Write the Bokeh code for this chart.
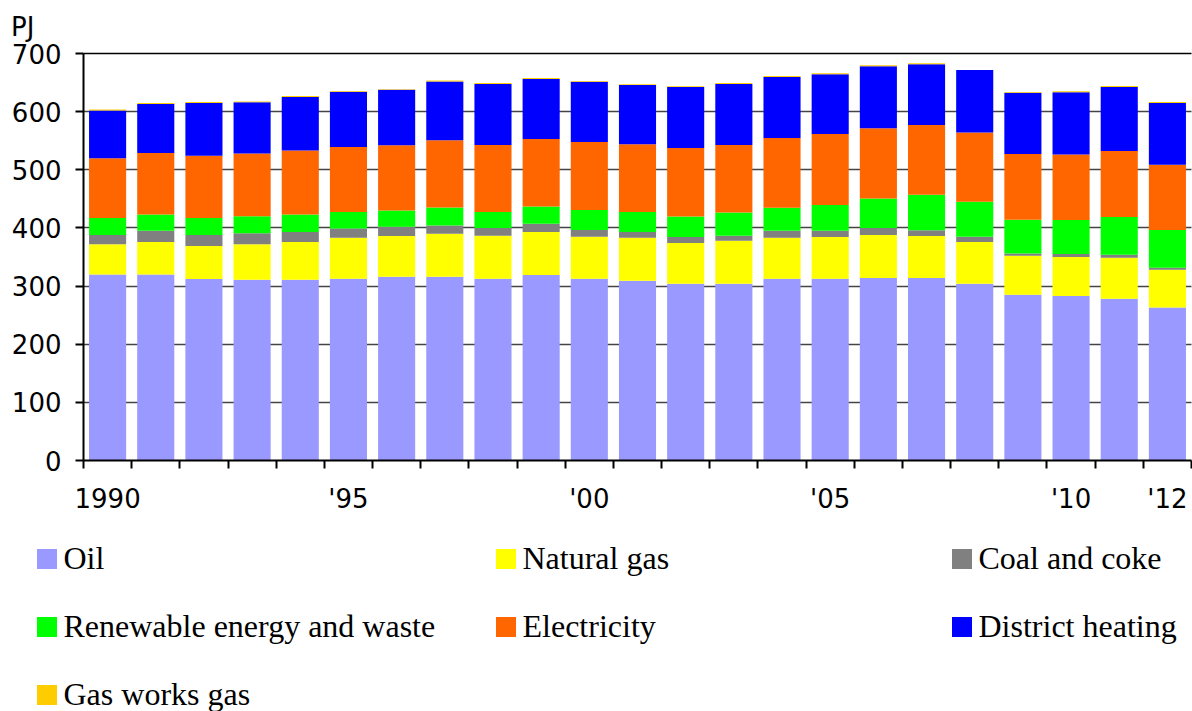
from bokeh.plotting import figure
from bokeh.models import (ColumnDataSource, Range1d, FixedTicker, Legend, LegendItem,
                          LinearAxis, Label)
from bokeh.embed import file_html
from bokeh.resources import INLINE

# ---- data (PJ) ----
years = list(range(1990, 2013))
oil = [320, 320, 312, 311, 311, 312.5, 316, 316, 312.5, 319, 312.5, 309, 304, 304,
       312.5, 312.5, 314, 314, 304, 285, 283, 278, 263]
natural_gas = [52, 56, 57, 61, 65, 70.5, 70, 74, 74, 74, 72.5, 74, 70, 74,
               70.5, 72, 74, 72, 72, 67, 67, 70.5, 65]
coal_coke = [16, 19, 19, 19, 17, 16, 16, 14, 13.5, 14, 11.5, 10, 10.5, 8.5,
             12, 10.5, 12, 10, 9, 4, 5, 5.5, 3.5]
renewable = [29, 28, 29, 29, 30, 28.5, 28, 31, 27.5, 30, 34.5, 34.5, 35, 40,
             39.5, 44.5, 50.5, 61, 60, 58, 58.5, 65, 65]
electricity = [103, 106, 107, 108, 110, 111.5, 112, 116, 115, 116, 117, 116.5, 118, 116,
               120, 122, 121, 120, 119, 113, 113, 113.5, 112]
district_heating = [82, 84, 91, 88, 92, 95, 95.5, 101, 105, 103, 103.5, 102, 105, 105,
                    105, 103, 106.5, 104.5, 107.5, 105.5, 107, 110, 106.5]
gas_works_gas = [1.7, 2, 1.5, 1.5, 2, 1.4, 1.2, 1.7, 1.6, 1.7, 1.1, 1.2, 1.2, 1.6,
                 1.6, 1.7, 1.7, 1.7, 0.3, 1.1, 1.4, 1.7, 1.7]

series_names = ["Oil", "Natural gas", "Coal and coke", "Renewable energy and waste",
                "Electricity", "District heating", "Gas works gas"]
series_keys = ["oil", "natural_gas", "coal_coke", "renewable", "electricity",
               "district_heating", "gas_works_gas"]
colors = ["#9999FF", "#FFFF00", "#808080", "#00FF00", "#FF6600", "#0000FF", "#FFCC00"]

label_years = [1990, 1995, 2000, 2005, 2010, 2012]
label_texts = ["1990", "'95", "'00", "'05", "'10", "'12"]
y_ticks = [0, 100, 200, 300, 400, 500, 600, 700]
y_max = 700

src = ColumnDataSource(dict(year=years, oil=oil, natural_gas=natural_gas, coal_coke=coal_coke,
                            renewable=renewable, electricity=electricity,
                            district_heating=district_heating, gas_works_gas=gas_works_gas))

# ---- layout geometry (pixels inside the canvas) ----
W, H = 1192, 711
CH_LEFT, CH_RIGHT, CH_TOP, CH_BOTTOM = 83, 1191, 53, 460
x0, x1 = years[0] - 0.5, years[-1] + 0.5
ux = (x1 - x0) / (CH_RIGHT - CH_LEFT)
uy = y_max / (CH_BOTTOM - CH_TOP)
x_range = Range1d(x0 - CH_LEFT * ux, x1 + (W - CH_RIGHT) * ux)
y_range = Range1d(0 - (H - CH_BOTTOM) * uy, y_max + CH_TOP * uy)

p = figure(width=W, height=H, output_backend="svg", toolbar_location=None,
           x_range=x_range, y_range=y_range,
           min_border=0, min_border_left=0, min_border_right=0,
           min_border_top=0, min_border_bottom=0)
p.title.visible = False
p.outline_line_color = None
p.background_fill_color = "white"
p.border_fill_color = "white"

renderers = p.vbar_stack(series_keys, x="year", width=0.77, fill_color=colors,
                         line_color=None, source=src)

# y axis (drawn at the chart's left edge)
ya = p.yaxis[0]
ya.fixed_location = x0
ya.bounds = (0, y_max)
ya.ticker = FixedTicker(ticks=y_ticks)
ya.major_tick_out = 8
ya.major_tick_in = 0
ya.minor_tick_out = 0
ya.minor_tick_in = 0
ya.axis_line_width = 2
ya.major_tick_line_width = 2
ya.major_label_standoff = 14
ya.major_label_text_font = "DejaVu Sans"
ya.major_label_text_font_size = "26px"
ya.major_label_text_color = "black"

# x axis: tick marks at bar boundaries (minor), labels at selected years (major)
xa = p.xaxis[0]
xa.fixed_location = 0
xa.bounds = (x0, x1)
xa.ticker = FixedTicker(ticks=label_years,
                        minor_ticks=[y - 0.5 for y in years] + [years[-1] + 0.5])
xa.major_label_overrides = {y: t for y, t in zip(label_years, label_texts)}
xa.major_tick_out = 0
xa.major_tick_in = 0
xa.minor_tick_out = 8
xa.minor_tick_in = 0
xa.minor_tick_line_width = 2
xa.minor_tick_line_color = "black"
xa.axis_line_width = 2
xa.major_label_standoff = 15
xa.major_label_text_font = "DejaVu Sans"
xa.major_label_text_font_size = "26px"
xa.major_label_text_color = "black"

# top frame line
top_axis = LinearAxis(fixed_location=y_max, bounds=(x0, x1), ticker=FixedTicker(ticks=[]),
                      major_tick_out=0, major_tick_in=0, minor_tick_out=0, minor_tick_in=0,
                      major_label_text_font_size="0px", axis_line_width=1.5,
                      axis_line_color="black")
p.add_layout(top_axis, "above")

p.xgrid.visible = False
g = p.ygrid[0]
g.ticker = FixedTicker(ticks=y_ticks[1:-1])
g.grid_line_color = "#444444"
g.grid_line_width = 1.5
if "cross_bounds" in g.properties():
    g.cross_bounds = (x0, x1)

# unit label
p.add_layout(Label(x=10.5, y=H - 26, x_units="screen", y_units="screen", text="PJ",
                   text_font="DejaVu Sans", text_font_size="26px", text_color="black",
                   text_baseline="alphabetic"))

# legends: three columns below the chart
def add_legend(idx_list, x, y):
    items = [LegendItem(label=series_names[i], renderers=[renderers[i]]) for i in idx_list]
    lg = Legend(items=items, location=(x, y), orientation="vertical",
                glyph_width=25, glyph_height=25, label_standoff=5,
                label_text_font="Liberation Serif", label_text_font_size="32px",
                label_text_color="black",
                label_height=44, spacing=24, padding=0, margin=0,
                border_line_color=None, background_fill_alpha=0)
    p.add_layout(lg)

add_legend([0, 3, 6], 33.5, -5)
add_legend([1, 4], 492.5, 63)
add_legend([2, 5], 948.5, 63)

open("out.html", "w").write(file_html(p, INLINE))
